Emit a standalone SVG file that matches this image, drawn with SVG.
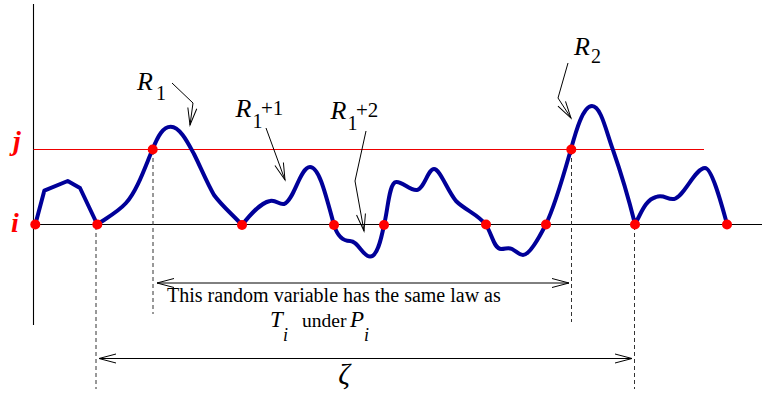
<svg xmlns="http://www.w3.org/2000/svg" width="762" height="394" viewBox="0 0 762 394">
<style>
.ln{stroke:#000;stroke-width:1.1;fill:none}
.dash{stroke:#333;stroke-width:1;stroke-dasharray:4 3;fill:none}
.path{stroke:#000099;stroke-width:4;fill:none;stroke-linejoin:round;stroke-linecap:round}
.dot{fill:#ff0000}
.lab{font-family:"Liberation Serif","Times New Roman",serif;fill:#000}
.it{font-style:italic}
.lvl{font-family:"Liberation Serif","Times New Roman",serif;font-style:italic;font-weight:bold;fill:#ff0000;font-size:28px}
.arr{stroke:#000;stroke-width:1;fill:none;marker-end:url(#ah)}
.darr{stroke:#000;stroke-width:1;fill:none;marker-end:url(#ah);marker-start:url(#ahs)}
</style>
<defs>
<marker id="ah" markerUnits="userSpaceOnUse" markerWidth="20" markerHeight="12" refX="17" refY="5" orient="auto" overflow="visible">
<path d="M0,0.5 L17,5 L0,9.5" fill="none" stroke="#000" stroke-width="1"/>
</marker>
<marker id="ahs" markerUnits="userSpaceOnUse" markerWidth="20" markerHeight="12" refX="0" refY="5" orient="auto" overflow="visible">
<path d="M17,0.5 L0,5 L17,9.5" fill="none" stroke="#000" stroke-width="1"/>
</marker>
</defs>

<g id="axes">
<line class="ln" x1="33.5" y1="4" x2="33.5" y2="325"/>
<line class="ln" x1="33.5" y1="224.5" x2="762" y2="224.5"/>
<line x1="33.5" y1="149.5" x2="704" y2="149.5" stroke="#ee0000" stroke-width="1.1"/>
<text class="lvl" x="13" y="150">j</text>
<text class="lvl" x="11" y="232">i</text>
</g>

<g id="guides">
<line class="dash" x1="96" y1="226" x2="96" y2="389"/>
<line class="dash" x1="153" y1="151" x2="153" y2="314"/>
<line class="dash" x1="571.5" y1="151" x2="571.5" y2="322"/>
<line class="dash" x1="634.5" y1="226" x2="634.5" y2="389"/>
</g>

<g id="trajectory">
<path class="path" d="M35.3,224.5 L44.3,190.7 L67.7,181 L80,188 L97.3,224.5
C105,219 118,212 126,203
C137,191 145,167 152.7,149
C158,136 163,126.7 170.7,126.7
C180,126.7 188,143 194,154
C201,168 207,183 214,195
C222,206 233,215 242,225
C250,215 260,203 270,201
C276,199.5 279,205 284,204
C294,201 300,167 310,167
C319,167 325,192 334,225
C338,238 344,241 350,241
C358,241 363,256.5 370,256.5
C377,257 381,240 384,225
C388,210 389,183 396,182
C402,181 410,191 417,190
C424,189 428,169 434,169
C440,169 447,190 456,201
C465,210 479,215 486,225
C492,234 494,249 501,249
C506,249 508,247 512,249
C516,251 519,255 523,255
C530,255 540,236 546,224
C555,206 563,177 571,149
C576,131 583,106 592,106
C601,106 606,131 613,150
C620,170 628,196 635,224
C641,214 645,200 656,197
C664,194 667,200 674,199
C684,197 695,168 705,168
C712,168 722,206 727,224"/>
</g>

<g id="points">
<circle class="dot" cx="35.3" cy="224.5" r="5"/>
<circle class="dot" cx="97.3" cy="224.5" r="5"/>
<circle class="dot" cx="152.7" cy="149.5" r="5"/>
<circle class="dot" cx="242" cy="225" r="5"/>
<circle class="dot" cx="334" cy="225" r="5"/>
<circle class="dot" cx="384" cy="225" r="5"/>
<circle class="dot" cx="486" cy="224.5" r="5"/>
<circle class="dot" cx="546" cy="224.5" r="5"/>
<circle class="dot" cx="571.3" cy="149.5" r="5"/>
<circle class="dot" cx="635" cy="224.5" r="5"/>
<circle class="dot" cx="727" cy="224.5" r="5"/>
</g>

<g id="label-R1">
<text class="lab it" x="137" y="90" font-size="26">R</text>
<text class="lab" x="156" y="100" font-size="20">1</text>
</g>
<g id="label-R1p1">
<text class="lab it" x="235.5" y="117" font-size="26">R</text>
<text class="lab" x="252.5" y="128" font-size="20">1</text>
<text class="lab" x="261" y="115" font-size="21">+1</text>
</g>
<g id="label-R1p2">
<text class="lab it" x="330.5" y="118.5" font-size="26">R</text>
<text class="lab" x="347.5" y="129.5" font-size="20">1</text>
<text class="lab" x="356" y="116.5" font-size="21">+2</text>
</g>
<g id="label-R2">
<text class="lab it" x="574" y="55" font-size="26">R</text>
<text class="lab" x="591" y="63" font-size="20">2</text>
</g>

<g id="note">
<text class="lab" x="167" y="302" font-size="20">This random variable has the same law as</text>
<text class="lab it" x="270" y="327" font-size="23">T</text>
<text class="lab it" x="283" y="341" font-size="18">i</text>
<text class="lab" x="302" y="327" font-size="19.5">under</text>
<text class="lab it" x="350" y="327" font-size="23">P</text>
<text class="lab it" x="364" y="341" font-size="18">i</text>
</g>
<g id="zeta">
<text class="lab it" x="344" y="384" font-size="29" text-anchor="middle">ζ</text>
</g>

<g id="connectors">
<polyline class="arr" points="172,83 193,103 190,125"/>
<line class="arr" x1="266" y1="128" x2="285" y2="180"/>
<polyline class="arr" points="366,131 355,181 364,231"/>
<polyline class="arr" points="568,63 558,98 571,118"/>
<line class="darr" x1="157" y1="283" x2="569" y2="283"/>
<line class="darr" x1="99" y1="358.5" x2="632" y2="358.5"/>
</g>
</svg>
